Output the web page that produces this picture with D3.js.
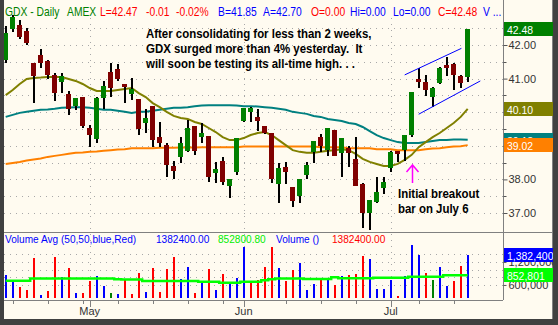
<!DOCTYPE html>
<html>
<head>
<meta charset="utf-8">
<script src="https://cdn.jsdelivr.net/npm/d3@7"></script>
<style>
  body { margin: 0; background: #fffbf0; }
  svg { display: block; }
</style>
</head>
<body>
<div id="chart"></div>
<script>
// GDX daily, Apr 13 - Jul 18 2007
var dates = ["4/13","4/16","4/17","4/18","4/19","4/20","4/23","4/24","4/25","4/26","4/27","4/30",
  "5/1","5/2","5/3","5/4","5/7","5/8","5/9","5/10","5/11","5/14","5/15","5/16","5/17","5/18",
  "5/21","5/22","5/23","5/24","5/25","5/29","5/30","5/31","6/1","6/4","6/5","6/6","6/7","6/8",
  "6/11","6/12","6/13","6/14","6/15","6/18","6/19","6/20","6/21","6/22","6/25","6/26","6/27",
  "6/28","6/29","7/2","7/3","7/5","7/6","7/9","7/10","7/11","7/12","7/13","7/16","7/17","7/18"];

var opens = [41.55,42.48,42.60,42.42,41.46,41.70,41.52,41.11,40.90,40.54,40.18,40.45,39.53,39.20,40.42,41.20,41.29,40.84,40.54,40.39,
  39.68,40.18,39.26,39.02,38.40,38.67,38.85,39.59,39.26,39.29,38.19,38.55,37.80,38.22,39.74,40.01,39.86,39.59,39.38,37.86,
  38.37,37.77,37.51,38.13,38.82,39.26,38.88,39.47,38.79,38.93,38.61,37.86,37.00,37.33,37.74,38.34,38.85,38.88,39.32,40.99,
  40.90,40.45,40.87,41.40,41.43,41.08,41.05];
var highs = [42.57,42.89,42.74,42.51,41.46,41.88,41.55,41.17,41.17,40.63,40.42,40.45,39.62,40.45,40.93,41.46,41.43,40.84,41.02,40.39,
  40.10,40.18,39.71,39.08,38.55,39.26,39.77,39.59,39.68,39.29,38.52,38.67,38.01,39.23,40.13,40.15,40.10,39.59,39.38,38.49,
  38.52,37.77,38.01,38.52,39.14,39.35,39.53,39.47,39.23,38.99,39.26,37.89,37.39,38.07,38.07,38.85,38.85,39.32,40.60,41.32,
  41.11,40.75,41.35,41.64,41.46,41.11,42.48];
var lows = [41.46,42.39,42.18,42.00,40.27,41.32,40.99,40.33,40.57,39.92,40.07,39.53,38.96,39.08,40.10,40.45,40.93,40.27,40.36,39.32,
  39.38,38.96,38.96,38.07,38.01,38.49,38.82,38.73,39.08,37.92,37.89,37.83,37.45,38.13,39.71,39.71,39.44,39.35,37.89,37.30,
  37.86,37.18,37.30,38.01,38.49,38.82,38.70,38.70,38.07,38.37,37.80,36.55,36.49,37.30,37.57,38.22,38.52,38.55,39.26,40.72,
  40.48,40.15,40.84,41.08,40.66,40.72,40.90];
var closes = [42.36,42.83,42.24,42.06,41.08,41.46,41.11,40.57,41.08,40.10,40.42,39.59,39.32,40.42,40.78,40.72,40.99,40.75,40.69,39.50,
  39.83,39.17,39.08,38.43,38.25,39.08,39.53,38.85,39.38,38.07,38.31,37.92,38.01,39.23,40.13,40.13,39.74,39.38,38.01,38.34,
  38.22,37.36,38.01,38.43,39.14,38.99,39.53,38.70,39.23,38.79,37.80,37.00,37.39,37.63,37.92,38.82,38.76,39.32,40.60,40.90,
  40.66,40.72,41.32,41.32,41.11,40.87,42.48];

var ma20 = [40.51,40.66,40.84,40.99,41.02,41.03,41.05,41.05,41.05,40.99,40.93,40.84,40.72,40.63,40.63,40.63,40.66,40.69,40.72,40.57,
  40.45,40.27,40.15,40.01,39.89,39.83,39.80,39.71,39.65,39.53,39.41,39.26,39.17,39.17,39.23,39.32,39.38,39.41,39.32,39.17,
  39.02,38.87,38.82,38.79,38.79,38.82,38.85,38.87,38.90,38.87,38.76,38.61,38.52,38.46,38.40,38.40,38.46,38.58,38.73,38.96,
  39.11,39.26,39.38,39.53,39.68,39.86,40.10];
var ma50 = [39.86,39.92,39.98,40.01,40.04,40.07,40.08,40.10,40.13,40.14,40.15,40.15,40.13,40.10,40.07,40.07,40.04,40.01,39.98,40.01,
  40.01,40.04,40.07,40.10,40.13,40.13,40.15,40.18,40.20,40.21,40.21,40.21,40.21,40.20,40.18,40.18,40.17,40.15,40.13,40.10,
  40.07,40.01,39.98,39.95,39.89,39.86,39.80,39.77,39.74,39.68,39.65,39.56,39.44,39.32,39.23,39.17,39.11,39.08,39.08,39.08,
  39.11,39.14,39.17,39.17,39.19,39.19,39.18];
var ma200 = [38.46,38.49,38.52,38.56,38.59,38.62,38.67,38.70,38.73,38.76,38.79,38.80,38.82,38.83,38.85,38.87,38.89,38.90,38.93,38.93,
  38.93,38.93,38.94,38.94,38.94,38.95,38.95,38.95,38.96,38.96,38.96,38.96,38.96,38.96,38.98,38.98,38.98,38.98,38.98,38.98,
  38.98,38.98,38.98,38.98,38.98,38.96,38.96,38.96,38.96,38.93,38.93,38.93,38.93,38.90,38.90,38.90,38.87,38.87,38.87,38.87,
  38.90,38.92,38.93,38.96,38.98,38.99,39.02];

var volumes = [859000,703000,554000,468000,1310000,338000,442000,1336000,807000,1050000,390000,390000,703000,833000,573000,390000,
  364000,729000,364000,912000,416000,1042000,416000,1024000,1336000,755000,1068000,390000,703000,1024000,468000,885000,
  651000,789000,1597000,659000,729000,1068000,1597000,1042000,711000,998000,1180000,468000,625000,773000,773000,599000,
  833000,859000,885000,1355000,1284000,502000,502000,729000,312000,833000,1641000,1381000,912000,729000,1068000,573000,
  703000,1094000,1382400];
// u = close up, d = close down, f = unchanged
var volDir = ["u","u","d","d","d","u","d","d","u","d","u","d","d","u","u","f","u","d","d","d","u","d","d","d","d","u","u","d",
  "u","d","u","d","u","u","u","d","d","d","d","u","d","d","u","u","u","d","u","d","u","d","d","d","u","u","u","u","d","u",
  "u","u","d","f","u","u","d","d","u"];
var volAvg = [711000,711000,711000,711000,768000,768000,768000,768000,768000,768000,768000,768000,768000,768000,768000,768000,
  747000,742000,742000,742000,703000,703000,703000,703000,703000,703000,703000,703000,685000,685000,685000,659000,659000,
  659000,685000,685000,685000,721000,747000,768000,768000,768000,768000,755000,755000,755000,755000,799000,773000,773000,
  773000,773000,773000,789000,789000,789000,789000,789000,815000,815000,815000,815000,815000,852801,852801,852801,852801];

var priceTicks = [37, 38, 39, 40, 41, 42];
var priceLabels = [37, 38, 41, 42];   // 39 and 40 sit under the value tags
var priceMinor = [37.5, 38.5, 39.5, 40.5, 41.5];
var priceGrid = [37, 37.5, 38, 38.5, 39, 39.5, 40, 40.5, 41, 41.5, 42, 42.5];
var volTicks = [600000, 1200000];
var volGrid = [600000, 800000, 1000000, 1200000, 1400000];
var monthTicks = ["5/1", "6/1", "7/2"];
var monthLabels = ["May", "Jun", "Jul"];
var weekTicks = ["4/16","4/23","4/30","5/7","5/14","5/21","5/29","6/11","6/18","6/25","7/9","7/16"];
var priceTags = [42.48, 40.10, 39.18, 39.02];
var volTags = [1382400, 852801];
var trendUpper = [[57, 41.11], [65.1, 41.90]];
var trendLower = [[59, 39.94], [67.8, 40.93]];

var W = 558, H = 325;
var plotLeft = 4, axisX = 503, priceBottom = 232, volBottom = 298, axisY = 300;
var font = "'Liberation Sans', Arial, sans-serif";

var svg = d3.select("#chart").append("svg")
  .attr("width", W)
  .attr("height", H);

svg.append("rect").attr("width", W).attr("height", H).attr("fill", "#fffbf0");

var x = d3.scaleLinear().domain([0, dates.length - 1]).range([5.7, 467.7]);
var y = d3.scaleLinear().domain([37, 42]).range([213, 45]);
var vy = d3.scaleLinear().domain([260000, 1980000]).range([volBottom, priceBottom]);
var xd = function(d) { return x(dates.indexOf(d)); };

function label(sel, px, py, s, o) {
  o = o || {};
  return sel.append("text")
    .attr("transform", "translate(" + px + "," + py + ") scale(" + (o.sx || 1) + ",1)")
    .attr("font-family", font)
    .attr("font-size", o.size || 12)
    .attr("font-weight", o.weight || "normal")
    .attr("fill", o.fill || "#000")
    .attr("text-anchor", o.anchor || "start")
    .style("white-space", "pre")
    .text(s);
}

// grid
var grid = svg.append("g")
  .attr("stroke", "#a8a8a8")
  .attr("stroke-dasharray", "1,5")
  .attr("shape-rendering", "crispEdges");

grid.selectAll(".pg").data(priceGrid).enter().append("line")
  .attr("x1", plotLeft).attr("x2", axisX)
  .attr("y1", d => Math.round(y(d)) + 0.5).attr("y2", d => Math.round(y(d)) + 0.5);

grid.selectAll(".vg").data(volGrid).enter().append("line")
  .attr("x1", plotLeft).attr("x2", axisX)
  .attr("y1", d => Math.round(vy(d)) + 0.5).attr("y2", d => Math.round(vy(d)) + 0.5);

grid.selectAll(".mg").data(monthTicks).enter().append("line")
  .attr("x1", d => Math.round(xd(d)) + 0.5).attr("x2", d => Math.round(xd(d)) + 0.5)
  .attr("y1", 18).attr("y2", axisY);

// moving averages
var maLine = function(arr) {
  return d3.line().x((d, i) => x(i)).y(d => y(d))(arr);
};
svg.append("path").attr("d", maLine(ma200)).attr("fill", "none")
  .attr("stroke", "#ff8000").attr("stroke-width", 2);
svg.append("path").attr("d", maLine(ma50)).attr("fill", "none")
  .attr("stroke", "#008080").attr("stroke-width", 2);
svg.append("path").attr("d", maLine(ma20)).attr("fill", "none")
  .attr("stroke", "#808000").attr("stroke-width", 2);

// candles
var candles = svg.append("g").attr("shape-rendering", "crispEdges")
  .selectAll("g").data(dates).enter().append("g");

candles.append("rect")
  .attr("x", (d, i) => x(i) - 1)
  .attr("width", 2)
  .attr("y", (d, i) => y(highs[i]))
  .attr("height", (d, i) => Math.max(1, y(lows[i]) - y(highs[i])))
  .attr("fill", "#000");

candles.append("rect")
  .attr("x", (d, i) => x(i) - 2.5)
  .attr("width", 5)
  .attr("y", (d, i) => y(Math.max(opens[i], closes[i])))
  .attr("height", (d, i) => Math.max(2, Math.abs(y(opens[i]) - y(closes[i]))))
  .attr("fill", (d, i) => closes[i] >= opens[i] ? "#008000" : "#800000");

// trend channel
[trendUpper, trendLower].forEach(function(t) {
  svg.append("line")
    .attr("x1", x(t[0][0])).attr("y1", y(t[0][1]))
    .attr("x2", x(t[1][0])).attr("y2", y(t[1][1]))
    .attr("stroke", "#0000ff").attr("stroke-width", 1);
});

// volume bars
var volColor = { u: "#0000ff", d: "#ff0000", f: "#008000" };
svg.append("g").attr("shape-rendering", "crispEdges")
  .selectAll("rect").data(volumes).enter().append("rect")
  .attr("x", (d, i) => x(i) - 1)
  .attr("width", 2)
  .attr("y", d => vy(d))
  .attr("height", d => volBottom - vy(d))
  .attr("fill", (d, i) => volColor[volDir[i]]);

svg.append("path")
  .attr("d", d3.line().curve(d3.curveStep).x((d, i) => x(i)).y(d => vy(d))(volAvg))
  .attr("fill", "none").attr("stroke", "#00ff00").attr("stroke-width", 2.5);

// breakout arrow
var ax = Math.round(xd("7/6")) + 0.5, ayTop = y(38.43), ayBot = y(37.89);
svg.append("path")
  .attr("d", "M" + ax + "," + ayBot + "V" + ayTop + "M" + (ax - 6) + "," + (ayTop + 7) + "L" + ax + "," + ayTop + "L" + (ax + 6) + "," + (ayTop + 7))
  .attr("fill", "none").attr("stroke", "#ff00ff").attr("stroke-width", 1.5);

// annotations
var ann = svg.append("g");
var annOpt = { size: 13, weight: "bold", sx: 0.88 };
label(ann, 146, 38, "After consolidating for less than 2 weeks,", annOpt);
label(ann, 146, 53, "GDX surged more than 4% yesterday.\u00a0 It", annOpt);
label(ann, 146, 68, "will soon be testing its all-time high. . .", annOpt);
label(ann, 398, 198, "Initial breakout", annOpt);
label(ann, 398, 213, "bar on July 6", annOpt);

// header
var head = svg.append("g");
[["GDX - Daily", "#008000", 5], ["AMEX", "#008000", 67], ["L=42.47", "#ff0000", 100],
 ["-0.01", "#ff0000", 146], ["-0.02%", "#ff0000", 176], ["B=41.85", "#0000ff", 218],
 ["A=42.70", "#0000ff", 263], ["O=0.00", "#ff0000", 311], ["Hi=0.00", "#0000ff", 350],
 ["Lo=0.00", "#0000ff", 393], ["C=42.48", "#ff0000", 438], ["V ...", "#0000ff", 483]]
  .forEach(function(h) { label(head, h[2], 15.5, h[0], { size: 12, fill: h[1], sx: 0.86 }); });

[["Volume Avg (50,50,blue,Red)", "#0000ff", 5], ["1382400.00", "#0000ff", 156],
 ["852800.80", "#00ee00", 218], ["Volume ()", "#0000ff", 276], ["1382400.00", "#ff0000", 332]]
  .forEach(function(h) { label(head, h[2], 242.5, h[0], { size: 11, fill: h[1], sx: 0.92 }); });

// frame lines
var frame = svg.append("g").attr("stroke", "#808080").attr("shape-rendering", "crispEdges");
frame.append("line").attr("x1", axisX + 0.5).attr("x2", axisX + 0.5).attr("y1", 0).attr("y2", axisY);
frame.append("line").attr("x1", plotLeft).attr("x2", 553).attr("y1", priceBottom + 0.5).attr("y2", priceBottom + 0.5);
frame.append("line").attr("x1", plotLeft).attr("x2", axisX).attr("y1", axisY + 0.5).attr("y2", axisY + 0.5);
frame.append("line").attr("x1", 552.5).attr("x2", 552.5).attr("y1", 0).attr("y2", 319);

// x axis ticks and labels
frame.selectAll(".wt").data(weekTicks).enter().append("line")
  .attr("x1", d => Math.round(xd(d)) + 0.5).attr("x2", d => Math.round(xd(d)) + 0.5)
  .attr("y1", axisY).attr("y2", axisY + 4);
frame.selectAll(".mt").data(monthTicks).enter().append("line")
  .attr("x1", d => Math.round(xd(d)) + 0.5).attr("x2", d => Math.round(xd(d)) + 0.5)
  .attr("y1", axisY).attr("y2", axisY + 7);
monthTicks.forEach(function(d, i) {
  label(svg, xd(d), 315, monthLabels[i], { size: 11, fill: "#333", anchor: "middle" });
});

// price axis
var yAxis = svg.append("g")
  .attr("transform", "translate(" + (axisX + 0.5) + ",0)")
  .call(d3.axisRight(y).tickValues(priceTicks)
    .tickFormat(d => priceLabels.indexOf(d) >= 0 ? d3.format(".2f")(d) : "")
    .tickSize(4).tickPadding(1));
yAxis.select(".domain").remove();
yAxis.selectAll("line").attr("stroke", "#555");
yAxis.selectAll("text").attr("font-family", font).attr("font-size", 11).attr("fill", "#333");
yAxis.selectAll(".minor").data(priceMinor).enter().append("line")
  .attr("x1", 0).attr("x2", 3)
  .attr("y1", d => Math.round(y(d)) + 0.5).attr("y2", d => Math.round(y(d)) + 0.5)
  .attr("stroke", "#555");

// volume axis
var vAxis = svg.append("g")
  .attr("transform", "translate(" + (axisX + 0.5) + ",0)")
  .call(d3.axisRight(vy).tickValues(volTicks).tickFormat(d3.format(",")).tickSize(3).tickPadding(2));
vAxis.select(".domain").remove();
vAxis.selectAll("line").attr("stroke", "#555");
vAxis.selectAll("text").attr("font-family", font).attr("font-size", 11).attr("fill", "#333");

// value tags on the right
var tagColors = ["#008000", "#808000", "#008080", "#ff8000"];
var volTagColors = ["#0000ff", "#00ff00"];
function tag(py, txt, col) {
  var g = svg.append("g");
  g.append("rect").attr("x", axisX + 1).attr("y", Math.round(py - 7)).attr("width", 49).attr("height", 14)
    .attr("fill", col);
  label(g, axisX + 4, Math.round(py) + 4.5, txt, { size: 11, fill: "#fff", sx: 0.95 });
}
priceTags.forEach(function(v, i) { tag(y(v), d3.format(".2f")(v), tagColors[i]); });
volTags.forEach(function(v, i) { tag(vy(v), d3.format(",")(v), volTagColors[i]); });

// dark outer border
svg.append("rect").attr("x", 0).attr("y", 0).attr("width", plotLeft).attr("height", H).attr("fill", "#404040");
svg.append("rect").attr("x", 553).attr("y", 0).attr("width", 5).attr("height", H).attr("fill", "#404040");
svg.append("rect").attr("x", 0).attr("y", 319).attr("width", W).attr("height", 6).attr("fill", "#404040");
</script>
</body>
</html>
